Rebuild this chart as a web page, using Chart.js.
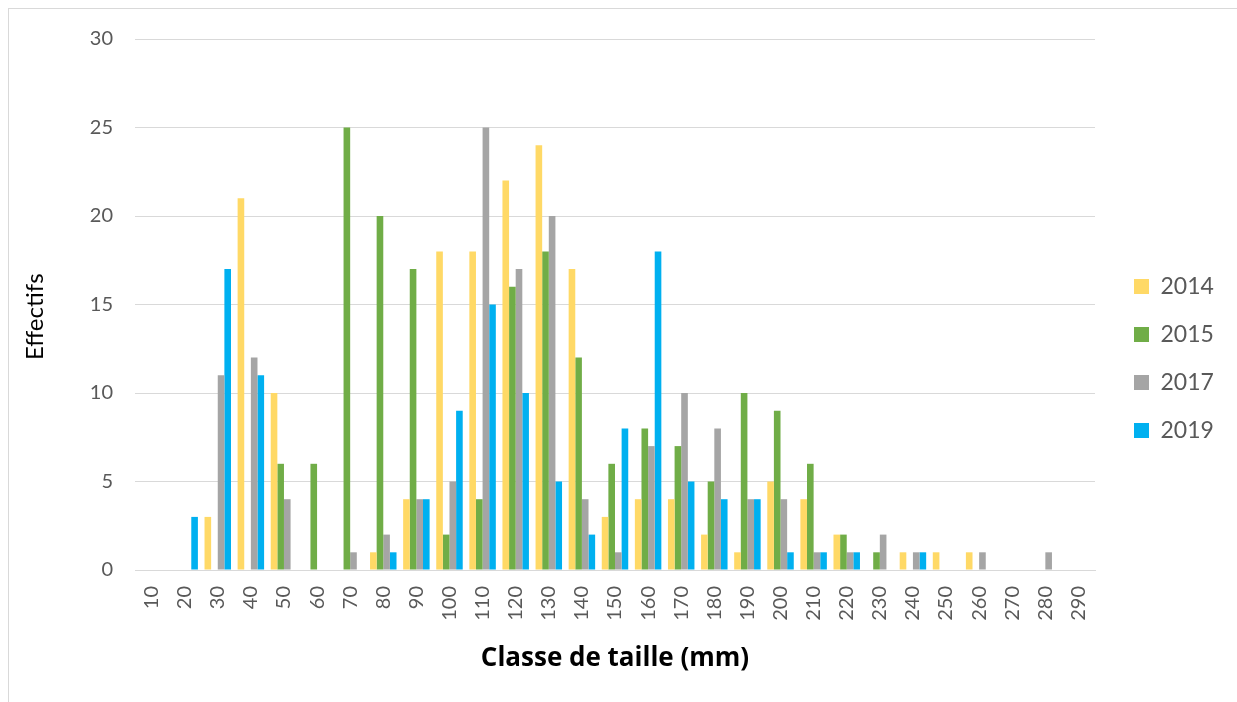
<!DOCTYPE html>
<html>
<head>
<meta charset="utf-8">
<script src="https://cdn.jsdelivr.net/npm/chart.js@4.4.0/dist/chart.umd.min.js"></script>
<style>
    body { margin: 0; background: #ffffff; }
    #wrap {
        position: absolute;
        left: 8px;
        top: 8px;
        width: 1228px;
        height: 700px;
        border-left: 1px solid #d9d9d9;
        border-top: 1px solid #d9d9d9;
    }
</style>
</head>
<body>
<div id="wrap"><canvas id="tailles"></canvas></div>
<script>
var classes = ["10", "20", "30", "40", "50", "60", "70", "80", "90", "100", "110", "120", "130", "140", "150",
    "160", "170", "180", "190", "200", "210", "220", "230", "240", "250", "260", "270", "280", "290"];
var an2014 = [0, 0, 3, 21, 10, 0, 0, 1, 4, 18, 18, 22, 24, 17, 3, 4, 4, 2, 1, 5, 4, 2, 0, 1, 1, 1, 0, 0, 0];
var an2015 = [0, 0, 0, 0, 6, 6, 25, 20, 17, 2, 4, 16, 18, 12, 6, 8, 7, 5, 10, 9, 6, 2, 1, 0, 0, 0, 0, 0, 0];
var an2017 = [0, 0, 11, 12, 4, 0, 1, 2, 4, 5, 25, 17, 20, 4, 1, 7, 10, 8, 4, 4, 1, 1, 2, 1, 0, 1, 0, 1, 0];
var an2019 = [0, 3, 17, 11, 0, 0, 0, 1, 4, 9, 15, 10, 5, 2, 8, 18, 5, 4, 4, 1, 1, 1, 0, 1, 0, 0, 0, 0, 0];
var yTicks = [0, 5, 10, 15, 20, 25, 30];

// legend keeps a fixed width and sits a bit away from the plot
var legendPlace = {
    id: "legendPlace",
    beforeLayout: function (chart) {
        var lg = chart.legend;
        if (lg && !lg._fixed) {
            var fit = lg.fit;
            lg.fit = function () {
                fit.call(this);
                this.width = 142;
            };
            lg._fixed = true;
        }
    },
    afterLayout: function (chart) {
        var lg = chart.legend;
        lg.left += 14;
        lg.right += 14;
    },
};

var ctx = document.getElementById("tailles");
var graphicTailles = new Chart(ctx, {
    type: "bar",
    data: {
        labels: classes,
        datasets: [
            { label: "2014", data: an2014, backgroundColor: "#FFD966" },
            { label: "2015", data: an2015, backgroundColor: "#70AD47" },
            { label: "2017", data: an2017, backgroundColor: "#A5A5A5" },
            { label: "2019", data: an2019, backgroundColor: "#00B0F0" },
        ],
    },
    options: {
        responsive: true,
        maintainAspectRatio: false,
        animation: false,
        datasets: {
            bar: {
                categoryPercentage: 0.8,
                barPercentage: 1,
            },
        },
        layout: {
            padding: { top: 30, right: 0, left: 0, bottom: 31 },
        },
        scales: {
            x: {
                grid: { display: false, drawTicks: false },
                border: { color: "#d9d9d9", width: 1 },
                ticks: {
                    color: "#595959",
                    font: { family: "Lato", size: 20 },
                    minRotation: 90,
                    maxRotation: 90,
                    autoSkip: false,
                    padding: 16,
                },
                title: {
                    display: true,
                    text: "Classe de taille (mm)",
                    color: "#000000",
                    font: { family: "Open Sans", size: 26, weight: "bold" },
                    padding: { top: 0, bottom: 4 },
                },
                afterFit: function (s) { s.height = 108; },
            },
            y: {
                min: 0,
                max: 30,
                afterBuildTicks: function (s) {
                    s.ticks = yTicks.map(function (v) { return { value: v }; });
                },
                grid: { color: "#d9d9d9", drawTicks: false },
                border: { display: false },
                ticks: {
                    color: "#595959",
                    font: { family: "Lato", size: 20 },
                    padding: 22,
                },
                title: {
                    display: true,
                    text: "Effectifs\u00A0\u00A0\u00A0\u00A0",
                    color: "#000000",
                    font: { family: "Lato", size: 24 },
                    padding: { top: 12, bottom: 0 },
                },
                afterFit: function (s) {
                    s.width = 126;
                    s.paddingTop = 0;
                    s.paddingBottom = 0;
                },
            },
        },
        plugins: {
            legend: {
                position: "right",
                labels: {
                    boxWidth: 15,
                    boxHeight: 15,
                    padding: 25,
                    color: "#595959",
                    font: { family: "Lato", size: 23 },
                },
            },
            tooltip: { enabled: false },
        },
    },
    plugins: [legendPlace],
});
</script>
</body>
</html>
